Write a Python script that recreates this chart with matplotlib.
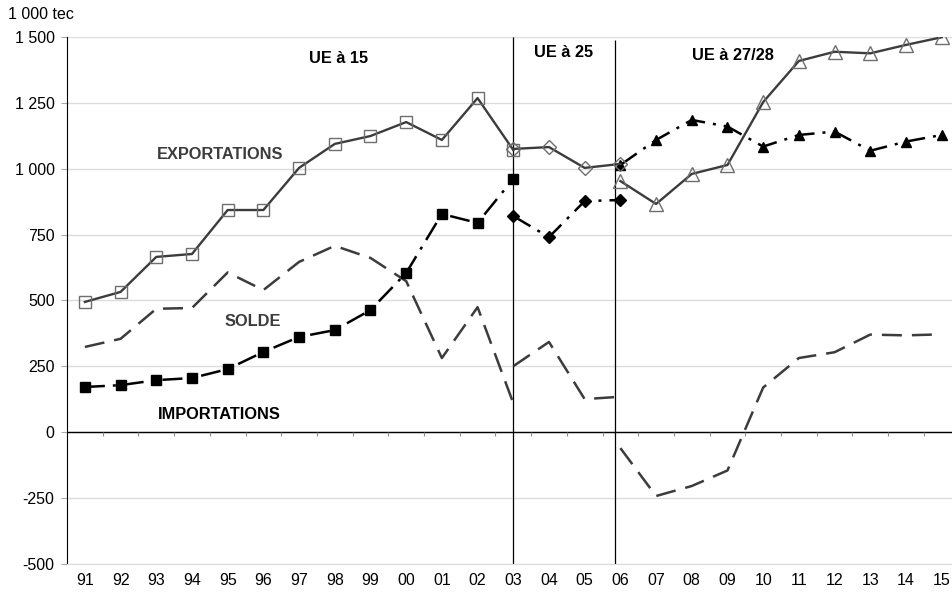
"""
Echanges extérieurs de charbon : exportations, importations et solde (1 000 tec).
"""

import matplotlib

matplotlib.use("Agg")
import matplotlib.pyplot as plt
import numpy as np

plt.rcParams["font.family"] = ["Liberation Sans", "DejaVu Sans"]

years = ["91", "92", "93", "94", "95", "96", "97", "98", "99", "00", "01", "02",
         "03", "04", "05", "06", "07", "08", "09", "10", "11", "12", "13", "14", "15"]

# UE à 15 : 91 -> 03, UE à 25 : 03 -> 06, UE à 27/28 : 06 -> 15
exp_ue15 = [494, 532, 665, 676, 843, 843, 1003, 1094, 1124, 1177, 1109, 1268, 1071]
exp_ue25 = [1075, 1082, 1003, 1018]
exp_ue28 = [953, 866, 980, 1014, 1253, 1409, 1444, 1438, 1470, 1499]

imp_ue15 = [171, 178, 197, 205, 239, 304, 361, 387, 463, 604, 828, 794, 961]
imp_ue25 = [820, 740, 877, 881]
imp_ue28 = [1014, 1109, 1185, 1160, 1084, 1128, 1141, 1068, 1103, 1128]

solde_ue15 = [323, 354, 468, 471, 606, 539, 646, 707, 661, 573, 281, 474, 110]
solde_ue25 = [250, 342, 125, 134]
solde_ue28 = [-61, -243, -205, -146, 169, 281, 303, 370, 367, 371]

yticks = [-500, -250, 0, 250, 500, 750, 1000, 1250, 1500]
ytick_labels = ["-500", "-250", "0", "250", "500", "750", "1 000", "1 250", "1 500"]

x = np.arange(len(years))
x15 = x[0:13]
x25 = x[12:16]
x28 = x[15:25]

fig = plt.figure(figsize=(9.52, 5.92), dpi=100)
ax = fig.add_axes([0.0704, 0.0478, 0.9375, 0.8897])

dark = "#3c3c3c"
edge = "#6e6e6e"
solde_ls = (0, (8, 4))
imp_ls = (0, (8, 3.2, 1.2, 3.2))

# solde
for xs, ys in [(x15, solde_ue15), (x25, solde_ue25), (x28, solde_ue28)]:
    ax.plot(xs, ys, color=dark, lw=1.8, linestyle=solde_ls, zorder=3)

# importations
for xs, ys, m, ms in [(x15, imp_ue15, "s", 7.5), (x25, imp_ue25, "D", 6), (x28, imp_ue28, "^", 7.5)]:
    ax.plot(xs, ys, color="black", lw=1.8, linestyle=imp_ls, marker=m, markersize=ms,
            markerfacecolor="black", markeredgecolor="black", zorder=4)

# exportations
for xs, ys, m, ms in [(x15, exp_ue15, "s", 9), (x25, exp_ue25, "D", 7), (x28, exp_ue28, "^", 9.5)]:
    ax.plot(xs, ys, color=dark, lw=1.7, marker=m, markersize=ms,
            markerfacecolor="none", markeredgecolor=edge, markeredgewidth=1.0, zorder=5)

# séparations des périodes
ax.vlines(12, -500, 1500, color="black", lw=0.9, zorder=2)
ax.vlines(14.85, -500, 1488, color="black", lw=0.9, zorder=2)

ax.set_xlim(-0.5, len(years) - 0.5)
ax.set_ylim(-500, 1500)
ax.set_yticks(yticks)
ax.set_yticklabels(ytick_labels)
ax.set_xticks(x)
ax.set_xticklabels(years)

ax.grid(axis="y", color="#dcdcdc", lw=1.0, zorder=0)
ax.set_axisbelow(True)
ax.axhline(0, color="black", lw=1.0, zorder=2)
# petites graduations sur l'axe zéro
ax.vlines(x[:-1] + 0.5, -16, 0, color="#8a8a8a", lw=0.8, zorder=2)

for side in ["top", "right"]:
    ax.spines[side].set_visible(False)
ax.spines["bottom"].set_color("#dcdcdc")
ax.spines["left"].set_color("black")
ax.tick_params(axis="x", length=0, pad=7, labelsize=11.5)
ax.tick_params(axis="y", length=4, color="#aaaaaa", pad=5, labelsize=11.5)

fig.text(0.008, 0.975, "1 000 tec", fontsize=11.5, ha="left", va="center")

bold = dict(fontsize=11.8, fontweight="bold", ha="center", va="center")
ax.text(7.1, 1417, "UE à 15", color="black", **bold)
ax.text(13.4, 1443, "UE à 25", color="black", **bold)
ax.text(18.15, 1428, "UE à 27/28", color="black", **bold)
ax.text(3.8, 1052, "EXPORTATIONS", color=dark, **bold)
ax.text(4.7, 418, "SOLDE", color=dark, **bold)
ax.text(3.77, 65, "IMPORTATIONS", color="black", **bold)

plt.savefig("out.png", dpi=100)
plt.close()
